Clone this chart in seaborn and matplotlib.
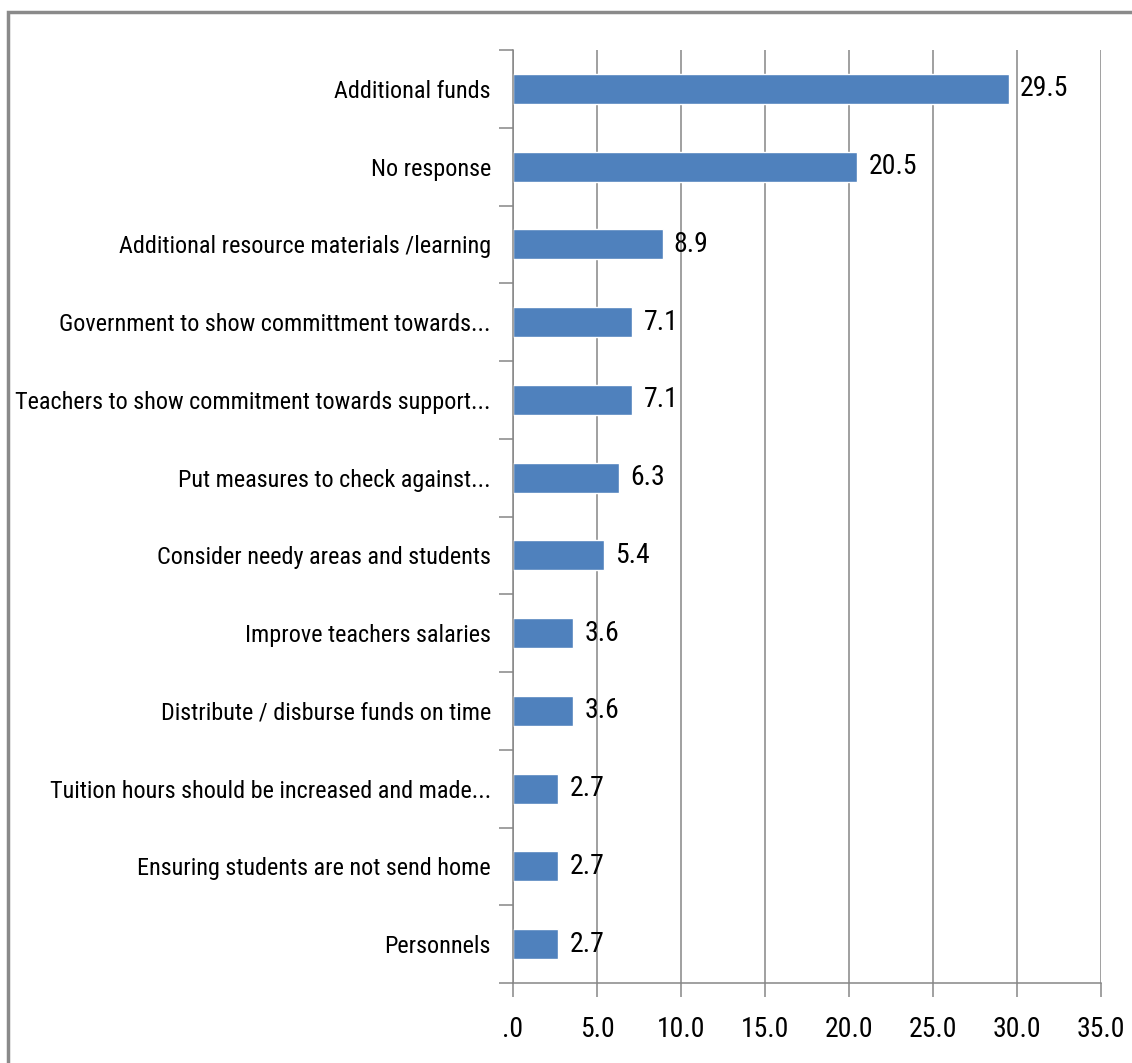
import matplotlib
matplotlib.use("Agg")
import matplotlib.pyplot as plt
from matplotlib import font_manager
from matplotlib.font_manager import FontProperties
from matplotlib.textpath import TextPath
from matplotlib.ticker import FixedLocator, FuncFormatter
from matplotlib.patches import Rectangle
import seaborn as sns
import pandas as pd

categories = [
    "Additional funds",
    "No response",
    "Additional resource materials /learning",
    "Government to show committment towards...",
    "Teachers to show commitment towards support...",
    "Put measures to check against...",
    "Consider needy areas and students",
    "Improve teachers salaries",
    "Distribute / disburse funds on time",
    "Tuition hours should be increased and made...",
    "Ensuring students are not send home",
    "Personnels",
]
values = [29.5, 20.5, 8.9, 7.1, 7.1, 6.3, 5.4, 3.6, 3.6, 2.7, 2.7, 2.7]
x_ticks = [0, 5, 10, 15, 20, 25, 30, 35]

bar_color = "#4F81BD"
line_color = "#868686"

sns.set_theme(style="white")

# pick a narrow family if one is installed (the original uses Calibri)
names = {f.name for f in font_manager.fontManager.ttflist}
family = "DejaVu Sans"
for cand in ["Liberation Sans Narrow", "Roboto Condensed", "Open Sans Condensed", "Roboto", "Lato"]:
    if cand in names:
        family = cand
        break
plt.rcParams["font.family"] = [family, "DejaVu Sans"]

# size the category labels so the longest one spans ~472 px, as in the original
longest = max(categories, key=len)
w_pt = TextPath((0, 0), longest, size=10, prop=FontProperties(family=family)).get_extents().width
cat_size = min(20, 10 * (472 * 72 / 100) / w_pt)
num_size = 20

df = pd.DataFrame({"category": categories, "value": values})

fig = plt.figure(figsize=(11.32, 10.63), dpi=100)
ax = fig.add_axes([513 / 1132, 1 - 983 / 1063, (1101 - 513) / 1132, (983 - 50) / 1063])

sns.barplot(data=df, x="value", y="category", orient="h", color=bar_color,
            saturation=1, width=0.385, ax=ax)

ax.set_xlim(0, 35)
ax.set_ylim(len(categories) - 0.5, -0.5)
ax.xaxis.set_major_locator(FixedLocator(x_ticks))
ax.xaxis.set_major_formatter(FuncFormatter(lambda v, p: ".0" if v == 0 else f"{v:.1f}"))
ax.grid(axis="x", color=line_color, linewidth=1.1)
ax.set_axisbelow(True)
ax.set_xlabel("")
ax.set_ylabel("")

for s in ["top", "right"]:
    ax.spines[s].set_visible(False)
for s in ["left", "bottom"]:
    ax.spines[s].set_color(line_color)
    ax.spines[s].set_linewidth(1.1)

# category boundaries as minor ticks, like Excel
ax.yaxis.set_minor_locator(FixedLocator([i - 0.5 for i in range(len(categories) + 1)]))
ax.tick_params(axis="y", which="minor", left=True, length=10, width=1.1, color=line_color)
ax.tick_params(axis="y", which="major", left=True, length=0, pad=16, labelsize=cat_size,
               labelcolor="black")
ax.tick_params(axis="x", which="major", bottom=True, length=10, width=1.1, color=line_color,
               pad=14, labelsize=num_size, labelcolor="black")

for cont in ax.containers:
    ax.bar_label(cont, labels=[f"{v:.1f}" for v in values], padding=8, fontsize=num_size,
                 color="black")

# outer frame of the chart area
fig.patches.append(Rectangle((8 / 1132, -0.05), 1.2, 1 - 12 / 1063 + 0.05, transform=fig.transFigure,
                             fill=False, edgecolor="#8a8a8a", linewidth=2.5))

fig.savefig("out.png", dpi=100)
